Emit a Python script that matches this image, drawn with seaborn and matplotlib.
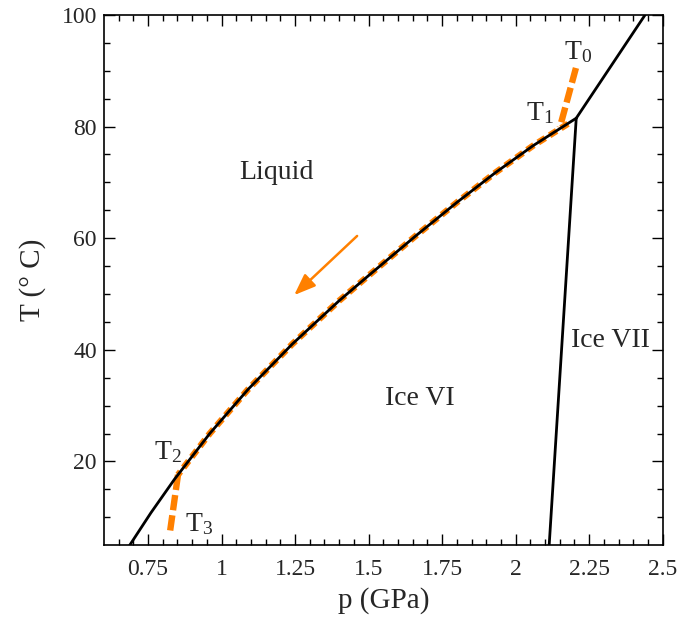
import numpy as np
import pandas as pd
import matplotlib
matplotlib.use("Agg")
import matplotlib.pyplot as plt
import seaborn as sns

# 相図データ
# Liquid / Ice VI 融解曲線
melt_p = [0.688, 0.76, 0.84, 0.96, 1.09, 1.24, 1.40, 1.50, 1.66, 1.80, 1.93, 2.06, 2.206]
melt_T = [5.0, 10.8, 16.8, 25.0, 32.9, 41.0, 48.8, 53.3, 60.4, 66.4, 71.7, 76.6, 81.5]
# Ice VI / Ice VII 境界
vi_vii_p = [2.206, 2.114]
vi_vii_T = [81.5, 5.0]
# Liquid / Ice VII 融解曲線
vii_p = [2.206, 2.44]
vii_T = [81.5, 100.0]

# 経路 T1 -> T2（曲線に沿う）
path_p = [2.178, 2.06, 1.93, 1.80, 1.66, 1.50, 1.40, 1.24, 1.09, 0.96, 0.852]
path_T = [80.5, 76.6, 71.7, 66.4, 60.4, 53.3, 48.8, 41.0, 32.9, 25.0, 17.6]
# T0 -> T1, T2 -> T3
seg01_p = [2.205, 2.15]
seg01_T = [90.5, 79.8]
seg23_p = [0.852, 0.824]
seg23_T = [17.6, 7.1]

# ラベル
phase_labels = ["Liquid", "Ice VI", "Ice VII"]
phase_pos = [(1.185, 71.7), (1.674, 31.3), (2.323, 41.7)]
point_labels = ["T$_0$", "T$_1$", "T$_2$", "T$_3$"]
point_pos = [(2.213, 93.4), (2.082, 82.4), (0.817, 21.7), (0.925, 8.8)]

ORANGE = "#FF8000"

sns.set_style("ticks")
plt.rcParams['font.family'] = ['Liberation Serif', 'DejaVu Serif']
plt.rcParams['mathtext.fontset'] = 'custom'
plt.rcParams['mathtext.rm'] = 'Liberation Serif'
plt.rcParams['mathtext.it'] = 'Liberation Serif:italic'

fig = plt.figure(figsize=(6.79, 6.23), dpi=100)
ax = fig.add_axes([0.153, 0.125, 0.823, 0.851])

# 経路（オレンジ破線）
sns.lineplot(x=path_p, y=path_T, sort=False, color=ORANGE, lw=4.6, ax=ax,
             linestyle=(0, (1.3, 0.8)), zorder=2)
sns.lineplot(x=seg01_p, y=seg01_T, sort=False, color=ORANGE, lw=4.6, ax=ax,
             linestyle=(0, (2.4, 0.8)), zorder=2)
sns.lineplot(x=seg23_p, y=seg23_T, sort=False, color=ORANGE, lw=4.6, ax=ax,
             linestyle=(0, (2.4, 0.8)), zorder=2)

# 相境界（黒線）
for xs, ys in [(melt_p, melt_T), (vi_vii_p, vi_vii_T), (vii_p, vii_T)]:
    sns.lineplot(x=xs, y=ys, sort=False, color="black", lw=2.0, ax=ax, zorder=3)

# 矢印
ax.annotate("", xy=(1.247, 49.8), xytext=(1.461, 60.4),
            arrowprops=dict(arrowstyle="-|>,head_length=1.3,head_width=0.5",
                            color=ORANGE, lw=1.8, shrinkA=0, shrinkB=0))

for lab, (x, y) in zip(phase_labels, phase_pos):
    ax.text(x, y, lab, fontsize=20, ha="center", va="center")
for lab, (x, y) in zip(point_labels, point_pos):
    ax.text(x, y, lab, fontsize=20, ha="center", va="center")

ax.set_xlim(0.6, 2.5)
ax.set_ylim(5, 100)
ax.set_xticks([0.75, 1, 1.25, 1.5, 1.75, 2, 2.25, 2.5])
ax.set_xticklabels(["0.75", "1", "1.25", "1.5", "1.75", "2", "2.25", "2.5"])
ax.set_xticks(np.arange(0.65, 2.5, 0.05), minor=True)
ax.set_yticks([20, 40, 60, 80, 100])
ax.set_yticks(np.arange(10, 100, 5), minor=True)
ax.tick_params(which="both", direction="in", top=True, right=True, labelsize=17,
               width=1.0, color="black")
ax.tick_params(which="major", length=8)
ax.tick_params(which="minor", length=4)
ax.tick_params(axis="x", which="major", pad=10)
ax.tick_params(axis="y", which="major", pad=5)
for s in ax.spines.values():
    s.set_linewidth(1.2)
    s.set_color("black")

ax.set_xlabel("p (GPa)", fontsize=21, labelpad=5)
ax.set_ylabel("T (° C)", fontsize=21, labelpad=11)

fig.savefig("out.png", dpi=100)
